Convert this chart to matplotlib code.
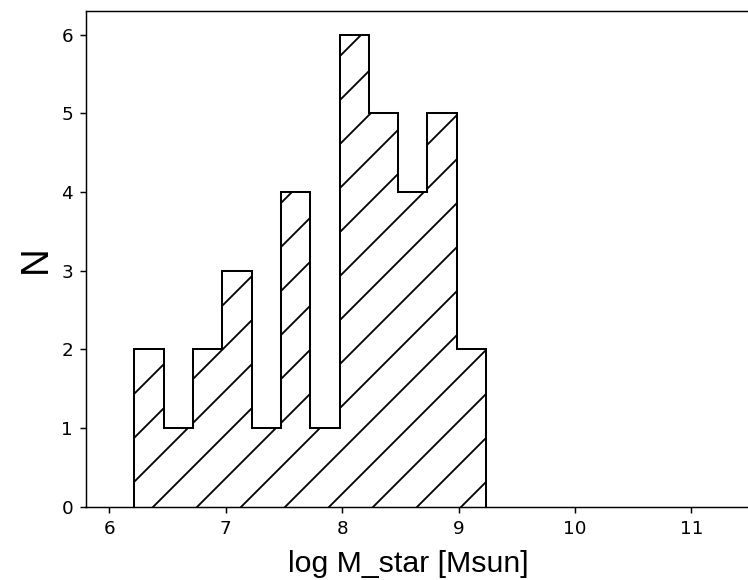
import numpy as np
import matplotlib
matplotlib.use("Agg")
import matplotlib.pyplot as plt

# stellar mass histogram (12 bins)
bin_lo = 6.215
bin_hi = 9.236
counts = [2, 1, 2, 3, 1, 4, 1, 6, 5, 4, 5, 2]

edges = np.linspace(bin_lo, bin_hi, len(counts) + 1)
centers = 0.5 * (edges[:-1] + edges[1:])

dpi = 132
fig = plt.figure(figsize=(748 / dpi, 580 / dpi), dpi=dpi)
ax = fig.add_axes([0.115, 0.126, 0.965, 0.855])

ax.hist(centers, bins=edges, weights=counts, histtype="step",
        hatch="/", color="k", linewidth=1.1)

ax.set_xlim(5.8, 12.0)
ax.set_xticks([6, 7, 8, 9, 10, 11])
ax.set_xlabel("log M_star [Msun]", fontsize=16.5, family="Liberation Sans")
ax.xaxis.set_label_coords(0.446, -0.087)
ax.set_ylabel("N", fontsize=21, family="Liberation Sans")

fig.savefig("out.png", dpi=dpi)
